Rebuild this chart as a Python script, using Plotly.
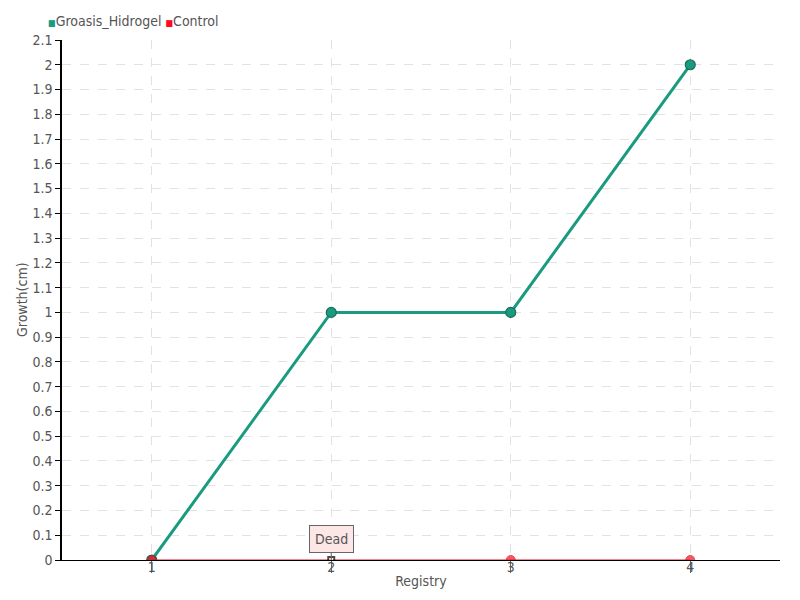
import plotly.graph_objects as go

registry = [1, 2, 3, 4]
groasis = [0, 1, 1, 2]
control = [0, 0, 0, 0]
control_symbols = ["circle", "square", "circle", "circle"]
ytick_vals = [round(i * 0.1, 1) for i in range(22)]
ytick_text = [("%g" % v) for v in ytick_vals]
series_names = ["Groasis_Hidrogel", "Control"]

FONT = "DejaVu Sans Condensed"
GREEN = "#1a9a80"
RED = "#ff0a24"

fig = go.Figure()
fig.add_trace(go.Scatter(
    x=registry, y=groasis, name=series_names[0], mode="lines+markers",
    line=dict(color=GREEN, width=3),
    marker=dict(size=10, color=GREEN, line=dict(color="#1c6e58", width=1.2)),
    showlegend=False,
))
fig.add_trace(go.Scatter(
    x=registry, y=control, name=series_names[1], mode="lines+markers",
    line=dict(color=RED, width=1.2),
    marker=dict(size=[9, 6, 9, 9], symbol=control_symbols,
                color=[RED, "white", RED, RED],
                line=dict(color=["#c0101e", "black", "#c0101e", "#c0101e"], width=[1, 2, 1, 1])),
    showlegend=False,
))

# compact legend (swatch directly beside label)
legend_text = (f"<span style='color:{GREEN};font-size:9px'>■</span>{series_names[0]} "
               f"<span style='color:{RED};font-size:9px'>■</span>{series_names[1]}")
fig.add_annotation(
    xref="paper", yref="paper", x=-0.022, y=1.0, yshift=19,
    xanchor="left", yanchor="middle", showarrow=False,
    text=legend_text, font=dict(family=FONT, size=14, color="#555"),
)

# y-axis title
fig.add_annotation(
    xref="paper", yref="paper", x=0, xshift=-40, y=0.5,
    xanchor="center", yanchor="middle", showarrow=False, textangle=-90,
    text="Growth(cm)", font=dict(family=FONT, size=14, color="#555"),
)

fig.add_annotation(
    x=2, y=0, text="Dead", showarrow=True, ax=0, ay=-21,
    arrowhead=0, arrowwidth=1, arrowcolor="#666",
    bgcolor="#fde6e6", bordercolor="#666", borderwidth=1, borderpad=5,
    font=dict(family=FONT, size=14, color="#555"),
)

# page body adds an 8px offset, so margins are shifted to compensate
fig.update_layout(
    width=800, height=600,
    margin=dict(l=54, r=28, t=32, b=48, autoexpand=False),
    plot_bgcolor="white", paper_bgcolor="white",
    font=dict(family=FONT, size=13, color="#555"),
    showlegend=False,
    xaxis=dict(
        range=[0.5, 4.5], tickvals=registry, ticktext=[str(r) for r in registry],
        showline=True, linecolor="black", linewidth=1,
        ticks="outside", ticklen=12, tickcolor="#666",
        showgrid=True, gridcolor="#e2e2e2", griddash="dash",
        zeroline=False,
        title=dict(text="Registry", standoff=2, font=dict(family=FONT, size=14, color="#555")),
        ticklabelstandoff=-18,
        tickfont=dict(size=14),
    ),
    yaxis=dict(
        range=[0, 2.1], tickvals=ytick_vals, ticktext=ytick_text,
        showline=True, linecolor="black", linewidth=1.5,
        ticks="outside", ticklen=5, tickcolor="black",
        showgrid=True, gridcolor="#e2e2e2", griddash="dash",
        zeroline=False,
        tickfont=dict(size=14),
    ),
)
fig.write_html("out.html")
